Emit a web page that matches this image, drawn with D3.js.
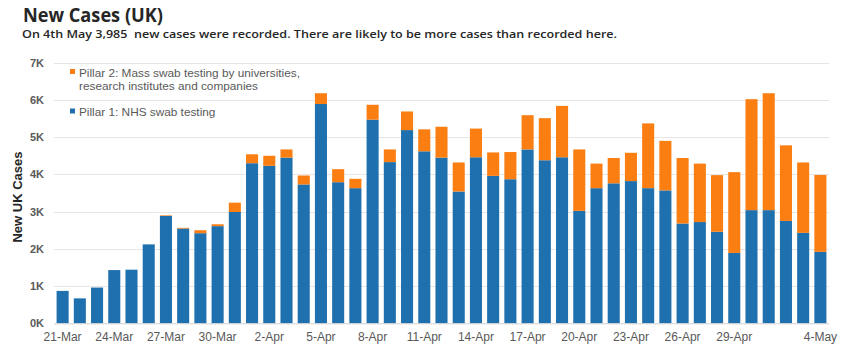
<!DOCTYPE html>
<html>
<head>
<meta charset="utf-8">
<script src="https://cdn.jsdelivr.net/npm/d3@7"></script>
<style>
  body { margin: 0; background: #fff; }
  svg { display: block; }
</style>
</head>
<body>
<svg id="drawing_region"></svg>
<script>
var Dates = [
    '21-Mar', '22-Mar', '23-Mar', '24-Mar', '25-Mar', '26-Mar', '27-Mar', '28-Mar', '29-Mar', '30-Mar', '31-Mar',
    '1-Apr', '2-Apr', '3-Apr', '4-Apr', '5-Apr', '6-Apr', '7-Apr', '8-Apr', '9-Apr', '10-Apr',
    '11-Apr', '12-Apr', '13-Apr', '14-Apr', '15-Apr', '16-Apr', '17-Apr', '18-Apr', '19-Apr', '20-Apr',
    '21-Apr', '22-Apr', '23-Apr', '24-Apr', '25-Apr', '26-Apr', '27-Apr', '28-Apr', '29-Apr', '30-Apr',
    '1-May', '2-May', '3-May', '4-May'
];

// Pillar 1: NHS swab testing
var Pillar1 = [
    870, 670, 960, 1430, 1440, 2120, 2885, 2545, 2420, 2610, 2990,
    4300, 4230, 4450, 3730, 5890, 3790, 3630, 5470, 4330, 5190,
    4620, 4450, 3540, 4460, 3960, 3870, 4670, 4380, 4460, 3020,
    3630, 3760, 3820, 3630, 3570, 2680, 2720, 2460, 1890, 3040,
    3040, 2750, 2430, 1920
];

// Pillar 2: mass swab testing
var Pillar2 = [
    0, 0, 0, 0, 0, 0, 15, 20, 80, 50, 250,
    240, 270, 220, 240, 290, 350, 250, 400, 340, 500,
    590, 830, 780, 770, 630, 730, 920, 1130, 1380, 1650,
    660, 680, 760, 1740, 1330, 1760, 1570, 1520, 2170, 2980,
    3140, 2030, 1890, 2065
];

var TickLabels = ['21-Mar', '24-Mar', '27-Mar', '30-Mar', '2-Apr', '5-Apr', '8-Apr', '11-Apr',
    '14-Apr', '17-Apr', '20-Apr', '23-Apr', '26-Apr', '29-Apr', '4-May'];

var YTicks = [0, 1000, 2000, 3000, 4000, 5000, 6000, 7000];

var Title = 'New Cases (UK)';
var Subtitle = 'On 4th May 3,985  new cases were recorded. There are likely to be more cases than recorded here.';

var Chart = { width: 846, height: 351, x0: 54, x1: 829, y0: 62.7, y1: 323.3 };
var blue = '#1f70ae', orange = '#fb7e12', grey = '#595959';

var svg = d3.select('#drawing_region')
    .attr('width', Chart.width)
    .attr('height', Chart.height);

svg.append('text')
    .attr('x', 23).attr('y', 22)
    .attr('font-family', 'Open Sans, sans-serif')
    .attr('font-weight', 'bold')
    .attr('font-size', 19)
    .attr('fill', '#262626')
    .attr('textLength', 140)
    .attr('lengthAdjust', 'spacingAndGlyphs')
    .text(Title);

svg.append('text')
    .attr('x', 22).attr('y', 38)
    .attr('font-family', 'Open Sans, sans-serif')
    .attr('font-weight', 600)
    .attr('font-size', 11)
    .attr('fill', '#262626')
    .attr('textLength', 595)
    .attr('lengthAdjust', 'spacingAndGlyphs')
    .style('white-space', 'pre')
    .text(Subtitle);

var stackData = Dates.map((d, i) => ({ date: d, p1: Pillar1[i], p2: Pillar2[i] }));
var series = d3.stack().keys(['p1', 'p2'])(stackData);

var xscale = d3.scaleBand()
    .domain(Dates)
    .range([Chart.x0, Chart.x1])
    .paddingInner(0.3)
    .paddingOuter(0.15);

var yscale = d3.scaleLinear()
    .domain([0, 7000])
    .range([Chart.y1, Chart.y0]);

// gridlines
svg.append('g')
    .selectAll('line')
    .data(YTicks.slice(1))
    .join('line')
    .attr('x1', Chart.x0).attr('x2', Chart.x1)
    .attr('y1', d => Math.round(yscale(d)) + 0.5).attr('y2', d => Math.round(yscale(d)) + 0.5)
    .attr('stroke', '#e6e6e6')
    .attr('stroke-width', 1);

// y axis labels
var yaxis = d3.axisLeft(yscale)
    .tickValues(YTicks)
    .tickFormat(d => (d / 1000) + 'K')
    .tickSize(0)
    .tickPadding(10);

svg.append('g')
    .attr('transform', `translate(${Chart.x0}, 0)`)
    .call(yaxis)
    .call(g => g.select('.domain').remove())
    .selectAll('text')
    .attr('font-family', 'Liberation Sans, Arial, sans-serif')
    .attr('font-weight', 'bold')
    .attr('font-size', 11)
    .attr('fill', grey);

svg.append('text')
    .attr('transform', `translate(22, ${(Chart.y0 + Chart.y1) / 2 + 4}) rotate(-90)`)
    .attr('text-anchor', 'middle')
    .attr('font-family', 'Liberation Sans, Arial, sans-serif')
    .attr('font-weight', 'bold')
    .attr('font-size', 13)
    .attr('fill', '#262626')
    .text('New UK Cases');

// bars
svg.append('g')
    .selectAll('g')
    .data(series)
    .join('g')
    .attr('fill', (d, i) => i === 0 ? blue : orange)
    .selectAll('rect')
    .data(d => d)
    .join('rect')
    .attr('x', d => xscale(d.data.date))
    .attr('width', xscale.bandwidth())
    .attr('y', d => yscale(d[1]))
    .attr('height', d => yscale(d[0]) - yscale(d[1]));

// x axis
var xaxis = d3.axisBottom(xscale)
    .tickValues(TickLabels)
    .tickSize(0)
    .tickPadding(9);

svg.append('g')
    .attr('transform', `translate(0, ${Chart.y1})`)
    .call(xaxis)
    .call(g => g.select('.domain').attr('stroke', '#d0d0d0').attr('d', `M${Chart.x0},0.5H${Chart.x1}`))
    .selectAll('text')
    .attr('font-family', 'Liberation Sans, Arial, sans-serif')
    .attr('font-size', 12)
    .attr('fill', grey);

// legend
var legend = [
    { color: orange, lines: ['Pillar 2: Mass swab testing by universities,', 'research institutes and companies'], y: 76.5 },
    { color: blue, lines: ['Pillar 1: NHS swab testing'], y: 116 }
];

var lg = svg.append('g')
    .selectAll('g')
    .data(legend)
    .join('g');

lg.append('rect')
    .attr('x', 70).attr('y', d => d.y - 7.5)
    .attr('width', 5).attr('height', 5)
    .attr('fill', d => d.color);

lg.append('text')
    .attr('font-family', 'Liberation Sans, Arial, sans-serif')
    .attr('font-size', 11.8)
    .attr('fill', grey)
    .selectAll('tspan')
    .data(d => d.lines.map((t, i) => ({ t: t, y: d.y + i * 13.5 })))
    .join('tspan')
    .attr('x', 79)
    .attr('y', d => d.y)
    .text(d => d.t);
</script>
</body>
</html>
